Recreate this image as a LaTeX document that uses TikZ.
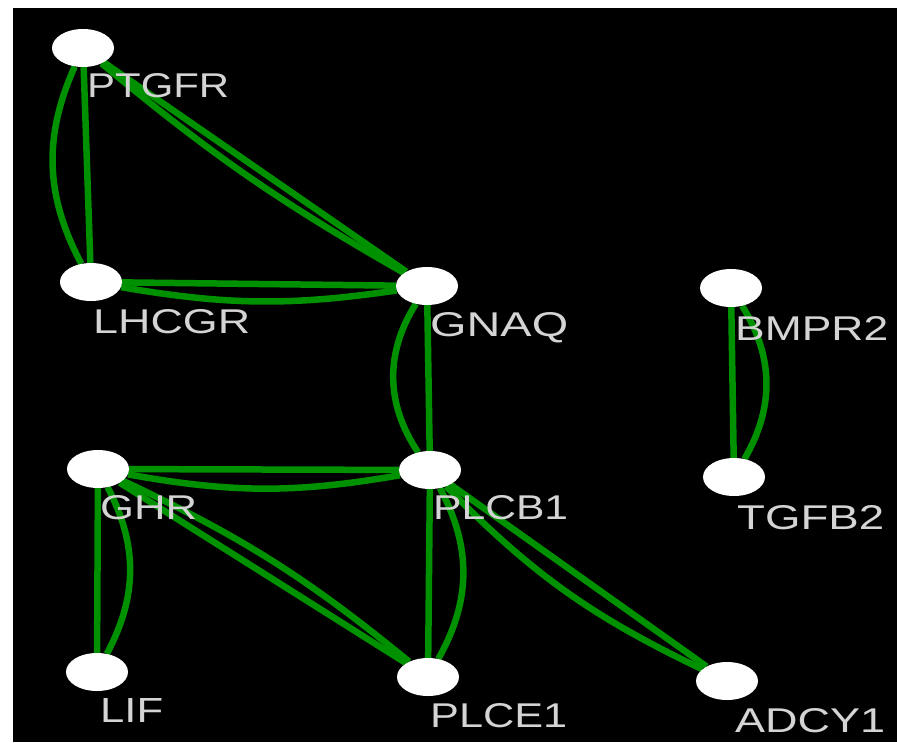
\documentclass[tikz,border=0pt]{standalone}
\usepackage{fontspec}
\setmainfont{Liberation Sans}
\usepackage{graphicx}
\usetikzlibrary{shapes.geometric}
\definecolor{edgegreen}{RGB}{0,145,0}
\definecolor{lblgray}{RGB}{212,212,212}
\pgfdeclarelayer{bg}
\pgfsetlayers{bg,main}
\newcommand\lbltext[2]{\resizebox{#1pt}{24pt}{#2}}
\begin{document}
\begin{tikzpicture}[x=1pt,y=1pt,
  gene/.style={ellipse, fill=white, minimum width=62pt, minimum height=38pt, inner sep=0pt},
  lbl/.style={anchor=base west, inner sep=0pt, text=lblgray, font=\fontsize{32}{36}\selectfont},
  ppi/.style={draw=edgegreen, line width=6.5pt}]
\useasboundingbox (0,0) rectangle (897,-742);

% nodes
\node[gene] (ptgfr) at (83,-48) {};
\node[gene] (lhcgr) at (91,-282) {};
\node[gene] (gnaq) at (427,-286) {};
\node[gene] (bmpr2) at (731,-288) {};
\node[gene] (tgfb2) at (734,-477) {};
\node[gene] (ghr) at (98,-469) {};
\node[gene] (plcb1) at (430,-470) {};
\node[gene] (lif) at (97,-672) {};
\node[gene] (plce1) at (428,-677) {};
\node[gene] (adcy1) at (727,-681) {};

% labels
\node[lbl] (lptgfr) at (87,-97) {\lbltext{142}{PTGFR}};
\node[lbl] (llhcgr) at (93,-333) {\lbltext{157}{LHCGR}};
\node[lbl] (lgnaq) at (430,-336) {\lbltext{138}{GNAQ}};
\node[lbl] (lbmpr2) at (735,-340) {\lbltext{153}{BMPR2}};
\node[lbl] (ltgfb2) at (737,-529) {\lbltext{147}{TGFB2}};
\node[lbl] (lghr) at (100,-519) {\lbltext{97}{GHR}};
\node[lbl] (lplcb1) at (433,-519) {\lbltext{135}{PLCB1}};
\node[lbl] (llif) at (100,-722) {\lbltext{63}{LIF}};
\node[lbl] (lplce1) at (430,-727) {\lbltext{137}{PLCE1}};
\node[lbl] (ladcy1) at (735,-732) {\lbltext{150}{ADCY1}};

\begin{pgfonlayer}{bg}
\fill[white] (0,0) rectangle (897,-742);
\fill[black] (13,-8) rectangle (897,-742);
\draw[ppi] (ptgfr) -- (lhcgr);
\draw[ppi] (ptgfr) to[bend right=26] (lhcgr);
\draw[ppi] (ptgfr) -- (gnaq);
\draw[ppi] (ptgfr) to[bend right=5] (gnaq);
\draw[ppi] (lhcgr) -- (gnaq);
\draw[ppi] (lhcgr) to[bend right=9] (gnaq);
\draw[ppi] (gnaq) -- (plcb1);
\draw[ppi] (gnaq) to[bend right=33] (plcb1);
\draw[ppi] (bmpr2) -- (tgfb2);
\draw[ppi] (bmpr2) to[bend left=31] (tgfb2);
\draw[ppi] (ghr) -- (plcb1);
\draw[ppi] (ghr) to[bend right=10] (plcb1);
\draw[ppi] (ghr) -- (lif);
\draw[ppi] (ghr) to[bend left=28] (lif);
\draw[ppi] (ghr) -- (plce1);
\draw[ppi] (ghr) to[bend left=7] (plce1);
\draw[ppi] (plcb1) -- (plce1);
\draw[ppi] (plcb1) to[bend left=29] (plce1);
\draw[ppi] (plcb1) -- (adcy1);
\draw[ppi] (plcb1) to[bend right=10] (adcy1);
\end{pgfonlayer}
\end{tikzpicture}
\end{document}
